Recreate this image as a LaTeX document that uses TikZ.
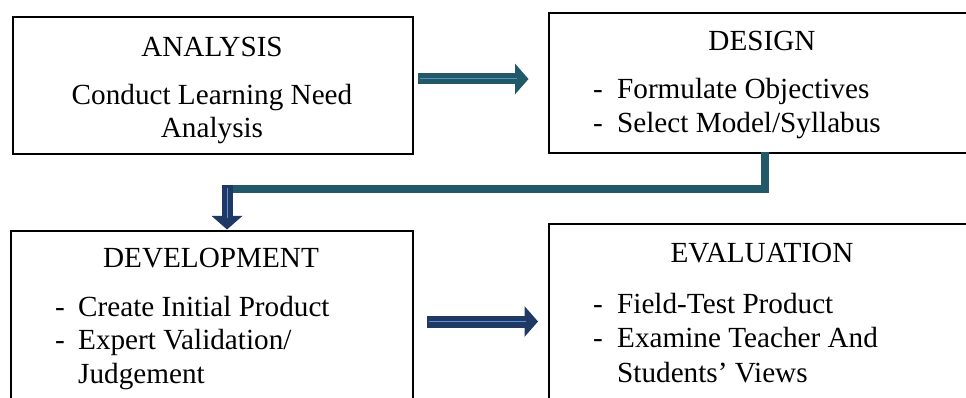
\documentclass[tikz,border=0pt]{standalone}
\usepackage{fontspec}
\setmainfont{Liberation Serif}
\usetikzlibrary{arrows.meta}
\definecolor{tealc}{HTML}{215968}
\definecolor{navyc}{HTML}{1F3864}
\definecolor{lighttc}{HTML}{4F93B8}
\definecolor{lightnc}{HTML}{5B8FD6}
\begin{document}
\begin{tikzpicture}[x=1pt,y=-1pt,
  box/.style={draw=black,line width=1.6pt,rectangle,anchor=north west,inner sep=0pt},
  txt/.style={anchor=base west,inner sep=0pt,font=\fontsize{29.2}{34}\selectfont},
  headtxt/.style={anchor=base,inner sep=0pt,font=\fontsize{29.2}{34}\selectfont},
  blockarrow/.style={line width=#1, -{Triangle[length=13.5pt 0 0,width=30pt 0 0]}},
  glint/.style={line width=1pt}]
\useasboundingbox (0,0) rectangle (966,398);
\clip (0,0) rectangle (966,398);
% boxes
\node[box,minimum width=400pt,minimum height=137pt] (A) at (12,16) {};
\node[box,minimum width=460pt,minimum height=140pt] (D) at (548,12) {};
\node[box,minimum width=402pt,minimum height=200pt] (V) at (10,230) {};
\node[box,minimum width=460pt,minimum height=200pt] (E) at (548,223) {};
% texts
\node[headtxt] (ta) at (212,57) {ANALYSIS};
\node[headtxt] (tb) at (212,105) {Conduct Learning Need};
\node[headtxt] (tc) at (212,138) {Analysis};
\node[headtxt] (td) at (762,51) {DESIGN};
\node[txt] (te) at (593,99) {\makebox[24pt][l]{-}Formulate Objectives};
\node[txt] (tf) at (593,133) {\makebox[24pt][l]{-}Select Model/Syllabus};
\node[headtxt] (tg) at (211,267) {DEVELOPMENT};
\node[txt] (th) at (55,316) {\makebox[23pt][l]{-}Create Initial Product};
\node[txt] (ti) at (55,349) {\makebox[23pt][l]{-}Expert Validation/};
\node[txt] (tj) at (78,383) {Judgement};
\node[headtxt] (tk) at (762,262) {EVALUATION};
\node[txt] (tl) at (593,313) {\makebox[24pt][l]{-}Field-Test Product};
\node[txt] (tm) at (593,347) {\makebox[24pt][l]{-}Examine Teacher And};
\node[txt] (tn) at (617,382) {Students’ Views};
% arrow analysis -> design
\coordinate (a1s) at (418,79);
\coordinate (a1m) at (517,79);
\coordinate (a1e) at (528.5,79);
\draw[tealc,blockarrow=11pt] (a1s) -- (a1e);
\draw[lighttc,glint] (a1s) ++(2,0) -- (a1m);
% connector design -> development
\coordinate (c1) at (764.5,152);
\coordinate (c2) at (230,189);
\draw[tealc,line width=8pt] (c1) |- (c2);
\coordinate (d1) at (227,185);
\coordinate (d1m) at (227,218);
\coordinate (d2) at (227,229.5);
\draw[navyc,blockarrow=11pt] (d1) -- (d2);
\draw[lightnc,glint] (d1) ++(0,3) -- (d1m);
% arrow development -> evaluation
\coordinate (a2s) at (427,321.5);
\coordinate (a2m) at (526,321.5);
\coordinate (a2e) at (538,321.5);
\draw[navyc,blockarrow=12pt] (a2s) -- (a2e);
\draw[lightnc,glint] (a2s) ++(2,0) -- (a2m);
\end{tikzpicture}
\end{document}
